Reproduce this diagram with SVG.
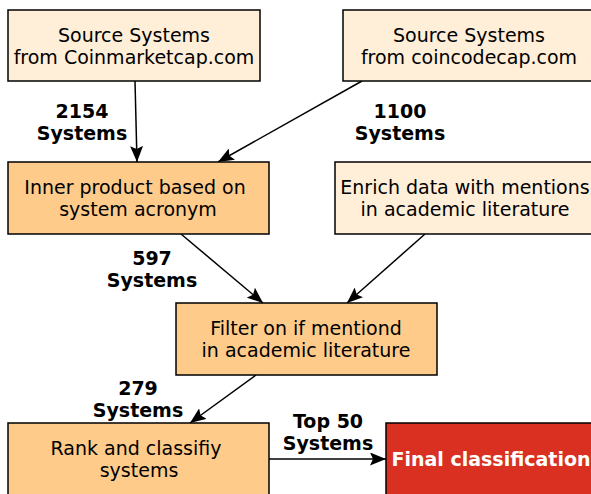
<svg xmlns="http://www.w3.org/2000/svg" width="591" height="494" viewBox="0 0 591 494">
<style>
text{font-family:"DejaVu Sans",sans-serif;font-size:19px;text-anchor:middle;fill:#000}
.lbl{font-weight:bold}
.light{fill:#ffeed8;stroke:#000;stroke-width:1.5}
.mid{fill:#fecb8b;stroke:#000;stroke-width:1.5}
.red{fill:#d93021;stroke:#000;stroke-width:1.5}
.edge{stroke:#000;stroke-width:1.5;fill:none}
.w{fill:#fff;font-weight:bold}
</style>
<defs>
<marker id="ah" viewBox="0 0 16 13" refX="16" refY="6.5" markerWidth="16" markerHeight="13" markerUnits="userSpaceOnUse" orient="auto">
<path d="M0,0 L16,6.5 L0,13 L3,6.5 z" fill="#000"/>
</marker>
</defs>
<rect width="591" height="494" fill="#fff"/>
<g id="edges">
<line class="edge" x1="135" y1="81" x2="137" y2="162" marker-end="url(#ah)"/>
<line class="edge" x1="362" y1="81" x2="218" y2="162" marker-end="url(#ah)"/>
<line class="edge" x1="181" y1="234" x2="263" y2="303" marker-end="url(#ah)"/>
<line class="edge" x1="425" y1="234" x2="347" y2="303" marker-end="url(#ah)"/>
<line class="edge" x1="256" y1="375" x2="190" y2="423" marker-end="url(#ah)"/>
<line class="edge" x1="269" y1="459" x2="386" y2="459" marker-end="url(#ah)"/>
<text class="lbl" x="82" y="118">2154</text>
<text class="lbl" x="82" y="140">Systems</text>
<text class="lbl" x="400" y="118">1100</text>
<text class="lbl" x="400" y="140">Systems</text>
<text class="lbl" x="152" y="265">597</text>
<text class="lbl" x="152" y="287">Systems</text>
<text class="lbl" x="138" y="395">279</text>
<text class="lbl" x="138" y="417">Systems</text>
<text class="lbl" x="328" y="428">Top 50</text>
<text class="lbl" x="328" y="450">Systems</text>
</g>
<g id="src1">
<rect class="light" x="8" y="10" width="252" height="71"/>
<text x="134" y="42">Source Systems</text>
<text x="134" y="64">from Coinmarketcap.com</text>
</g>
<g id="src2">
<rect class="light" x="343" y="10" width="252" height="71"/>
<text x="469" y="42">Source Systems</text>
<text x="469" y="64">from coincodecap.com</text>
</g>
<g id="inner">
<rect class="mid" x="8" y="162" width="261" height="72"/>
<text x="135" y="194">Inner product based on</text>
<text x="138" y="216">system acronym</text>
</g>
<g id="enrich">
<rect class="light" x="335" y="162" width="260" height="72"/>
<text x="465" y="194">Enrich data with mentions</text>
<text x="465" y="216">in academic literature</text>
</g>
<g id="filter">
<rect class="mid" x="176" y="303" width="261" height="72"/>
<text x="306" y="335">Filter on if mentiond</text>
<text x="306" y="357">in academic literature</text>
</g>
<g id="rank">
<rect class="mid" x="8" y="423" width="261" height="80"/>
<text x="136" y="455">Rank and classifiy</text>
<text x="139" y="477">systems</text>
</g>
<g id="final">
<rect class="red" x="386" y="423" width="220" height="80"/>
<text class="w" x="491" y="466">Final classification</text>
</g>
</svg>
